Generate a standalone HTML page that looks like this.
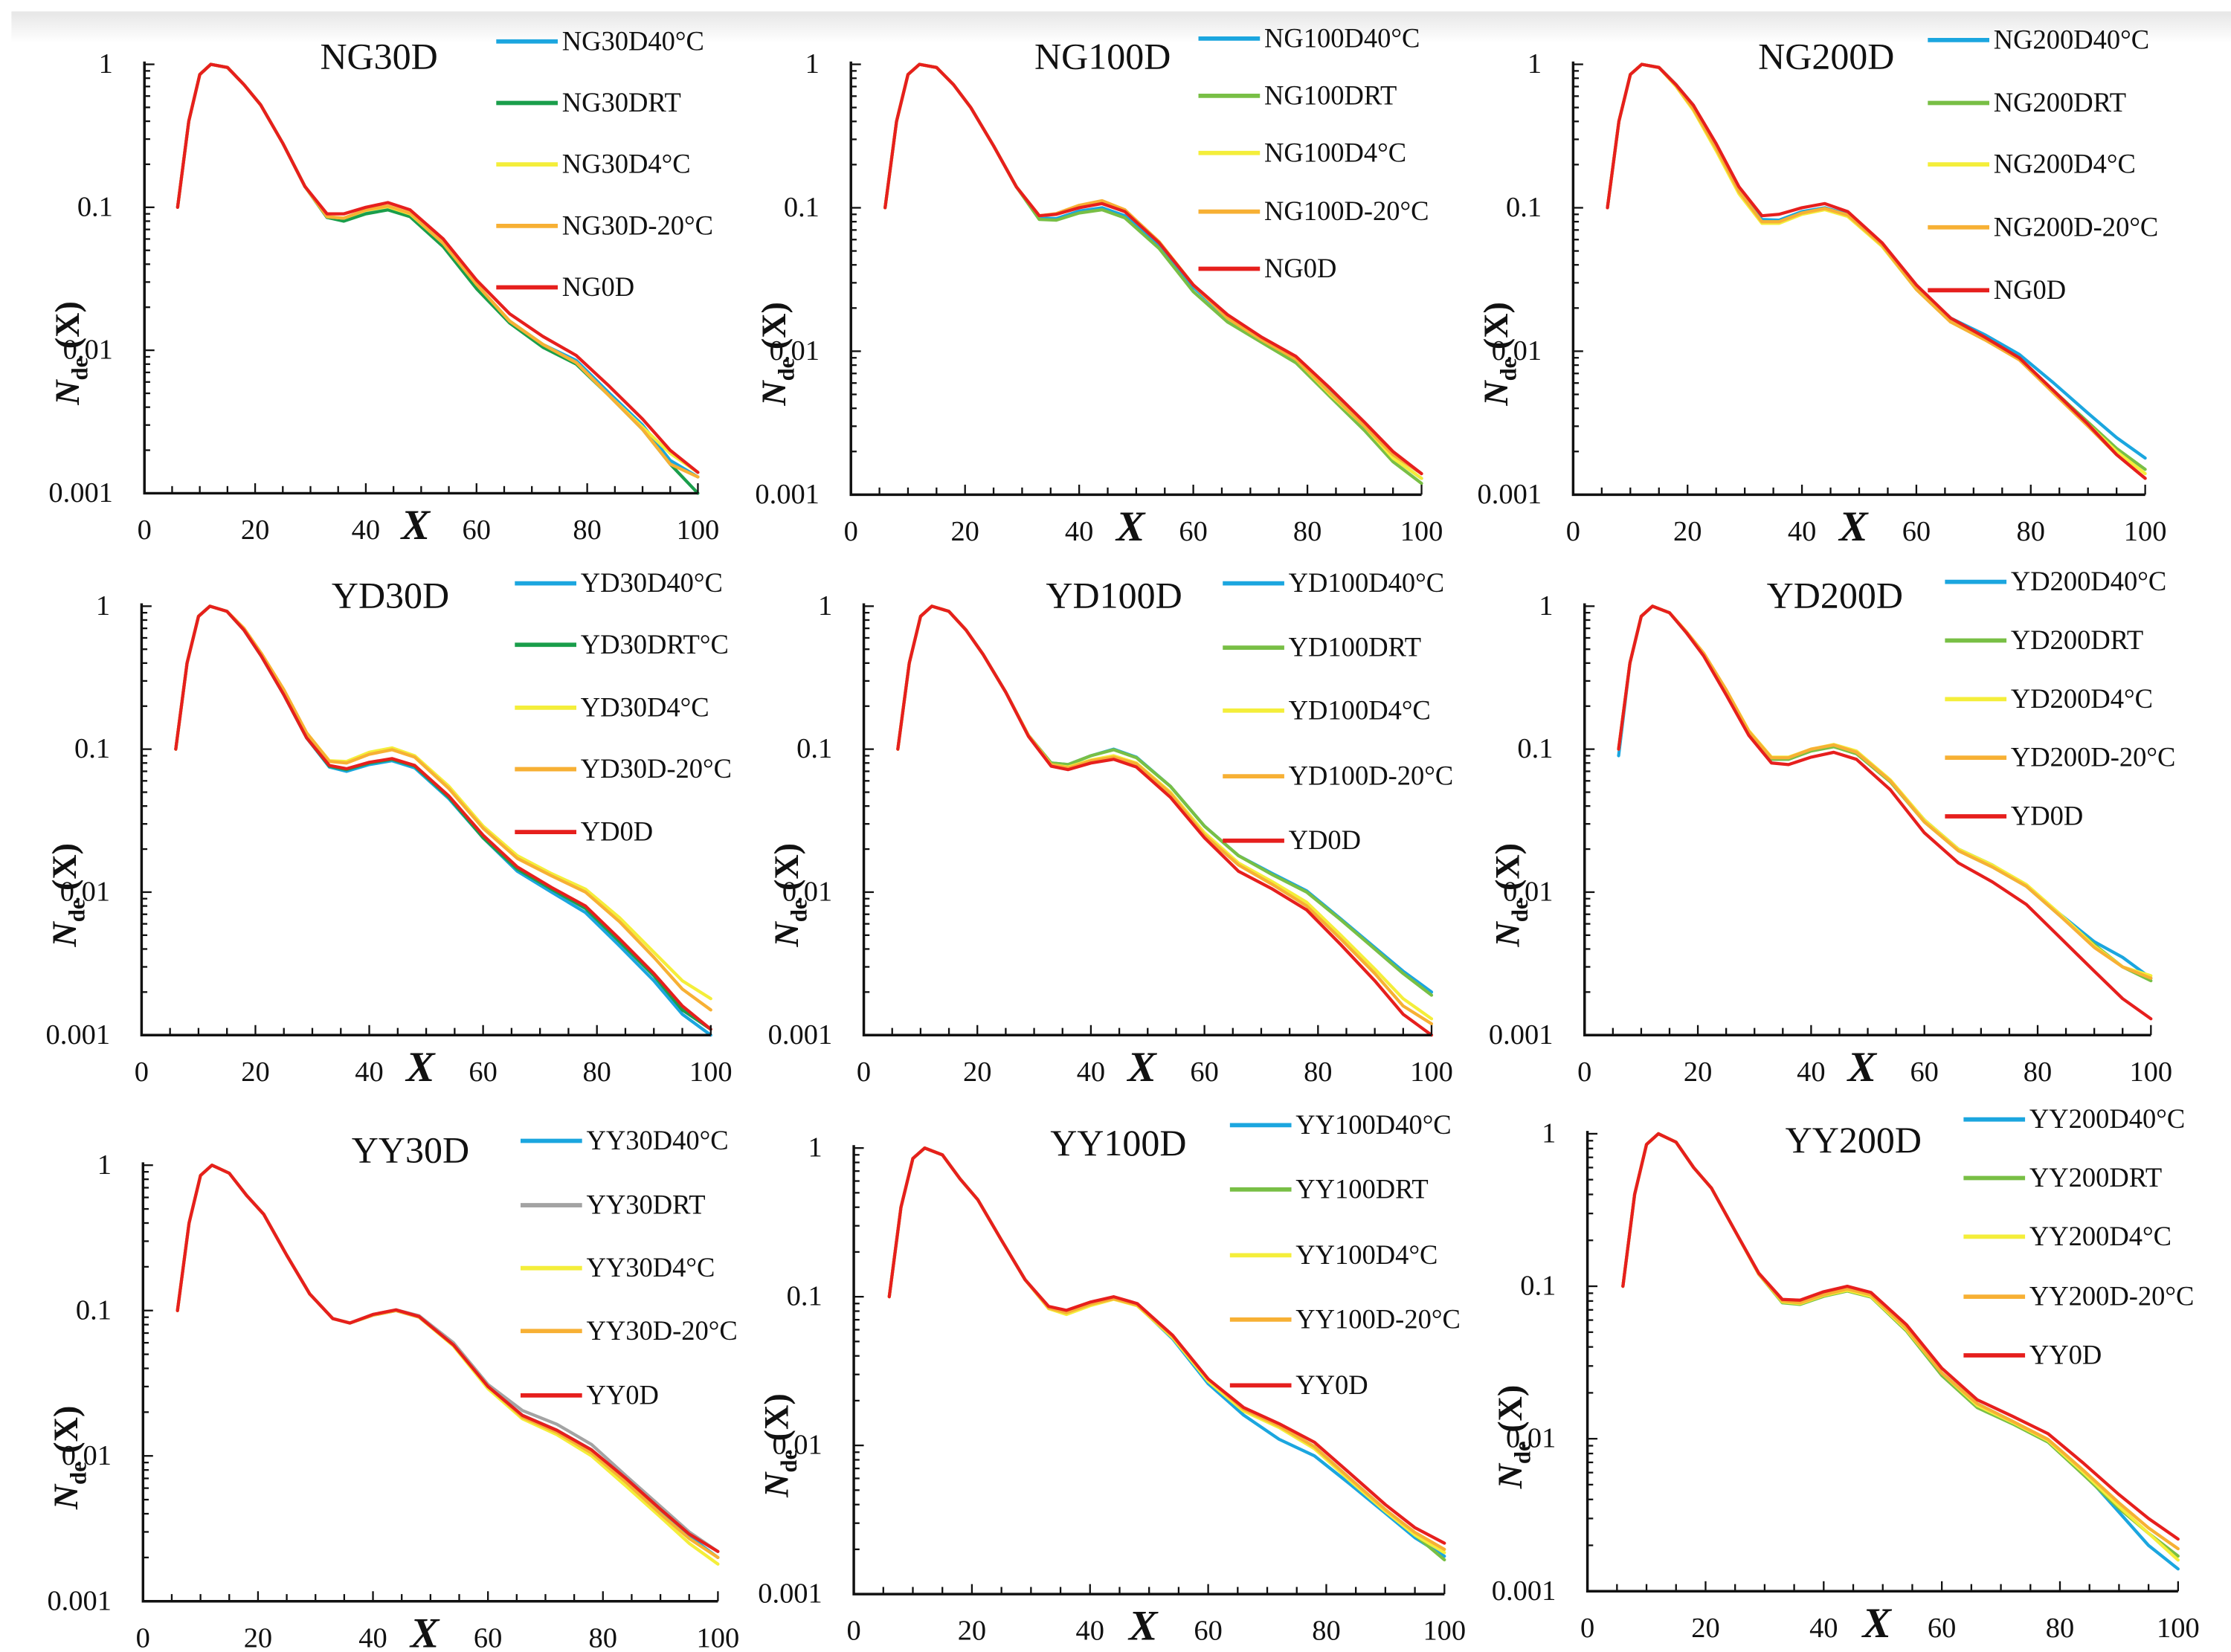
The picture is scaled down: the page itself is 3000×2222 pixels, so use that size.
<!DOCTYPE html>
<html><head><meta charset="utf-8">
<style>
html,body{margin:0;padding:0;background:#fff;}
svg{display:block;}
text{font-family:"Liberation Serif",serif;fill:#111;}
</style></head>
<body>
<svg id="fig" width="3000" height="2222" viewBox="0 0 1560 1155.5" preserveAspectRatio="none" xmlns="http://www.w3.org/2000/svg">
<defs><linearGradient id="topg" x1="0" y1="0" x2="0" y2="1"><stop offset="0" stop-color="#e6e6e6"/><stop offset="1" stop-color="#ffffff"/></linearGradient></defs>
<rect x="0" y="0" width="1560" height="1155.5" fill="#fff"/>
<rect x="8" y="8" width="1552" height="22" fill="url(#topg)"/>
</svg>
<script>
// shared x positions of sampled points
const xs = [6,8,10,12,15,18,21,25,29,33,36,40,44,48,54,60,66,72,78,84,90,95,100];
const colors = {b:'#1ba6df', g:'#1a9e4b', lg:'#78bf45', y:'#f4ee3a', o:'#f7b034', r:'#e61f1d', gr:'#a3a3a3'};

// ---------- NG30D ----------
const ng30Names = ['NG30D40°C','NG30DRT','NG30D4°C','NG30D-20°C','NG0D'];
const ng30B = [0.1,0.4,0.85,1.0,0.95,0.72,0.52,0.28,0.14,0.085,0.082,0.092,0.098,0.088,0.055,0.028,0.016,0.011,0.0085,0.005,0.003,0.0017,0.0013];
const ng30G = [0.1,0.4,0.85,1.0,0.95,0.72,0.52,0.28,0.14,0.085,0.08,0.09,0.096,0.086,0.053,0.027,0.0155,0.0105,0.008,0.0048,0.0028,0.0016,0.001];
const ng30Y = [0.1,0.4,0.85,1.0,0.95,0.72,0.52,0.28,0.14,0.086,0.084,0.095,0.101,0.09,0.056,0.029,0.016,0.011,0.0082,0.0048,0.0029,0.0019,0.0014];
const ng30O = [0.1,0.4,0.85,1.0,0.95,0.72,0.52,0.28,0.14,0.086,0.084,0.096,0.102,0.091,0.056,0.029,0.016,0.011,0.0082,0.0048,0.0028,0.0016,0.0013];
const ng30R = [0.1,0.4,0.85,1.0,0.95,0.72,0.52,0.28,0.14,0.09,0.09,0.1,0.108,0.096,0.06,0.031,0.018,0.0125,0.0092,0.0056,0.0033,0.002,0.0014];
// ---------- NG100D ----------
const ng100Names = ['NG100D40°C','NG100DRT','NG100D4°C','NG100D-20°C','NG0D'];
const ng100B = [0.1,0.4,0.85,1.0,0.95,0.72,0.5,0.27,0.14,0.085,0.084,0.095,0.1,0.088,0.055,0.028,0.017,0.012,0.0088,0.0052,0.003,0.0018,0.0013];
const ng100G = [0.1,0.4,0.85,1.0,0.95,0.72,0.5,0.27,0.14,0.083,0.082,0.092,0.097,0.085,0.052,0.026,0.016,0.0115,0.0083,0.0048,0.0028,0.0017,0.0012];
const ng100Y = [0.1,0.4,0.85,1.0,0.95,0.72,0.5,0.27,0.14,0.088,0.09,0.103,0.11,0.096,0.058,0.029,0.017,0.012,0.0088,0.005,0.003,0.0018,0.0013];
const ng100O = [0.1,0.4,0.85,1.0,0.95,0.72,0.5,0.27,0.14,0.088,0.091,0.104,0.112,0.097,0.058,0.029,0.017,0.012,0.0088,0.0051,0.003,0.0019,0.0014];
const ng100R = [0.1,0.4,0.85,1.0,0.95,0.72,0.5,0.27,0.14,0.088,0.09,0.1,0.107,0.094,0.057,0.029,0.018,0.0125,0.0092,0.0055,0.0032,0.002,0.0014];
// ---------- NG200D ----------
const ng200Names = ['NG200D40°C','NG200DRT','NG200D4°C','NG200D-20°C','NG0D'];
const ng200B = [0.1,0.4,0.85,1.0,0.95,0.72,0.52,0.27,0.13,0.083,0.082,0.094,0.1,0.09,0.056,0.028,0.017,0.013,0.0095,0.006,0.0037,0.0025,0.0018];
const ng200G = [0.1,0.4,0.85,1.0,0.95,0.72,0.5,0.26,0.13,0.08,0.08,0.092,0.098,0.088,0.054,0.027,0.016,0.012,0.0088,0.0053,0.0032,0.0021,0.0015];
const ng200Y = [0.1,0.4,0.85,1.0,0.95,0.7,0.48,0.25,0.125,0.078,0.078,0.09,0.097,0.087,0.054,0.027,0.016,0.012,0.0088,0.0052,0.0031,0.002,0.0014];
const ng200O = [0.1,0.4,0.85,1.0,0.95,0.71,0.49,0.26,0.13,0.08,0.08,0.092,0.099,0.089,0.055,0.027,0.016,0.012,0.0087,0.0051,0.003,0.0019,0.0013];
const ng200R = [0.1,0.4,0.85,1.0,0.95,0.72,0.52,0.28,0.14,0.088,0.09,0.1,0.107,0.094,0.057,0.029,0.017,0.0125,0.009,0.0053,0.0031,0.0019,0.0013];
// ---------- YD30D ----------
const yd30Names = ['YD30D40°C','YD30DRT°C','YD30D4°C','YD30D-20°C','YD0D'];
const yd30B = [0.1,0.4,0.85,1.0,0.92,0.68,0.45,0.24,0.12,0.075,0.07,0.078,0.083,0.074,0.045,0.024,0.014,0.01,0.0072,0.0042,0.0024,0.0014,0.001];
const yd30G = [0.1,0.4,0.85,1.0,0.92,0.68,0.45,0.24,0.12,0.076,0.072,0.08,0.085,0.076,0.046,0.024,0.0145,0.0105,0.0077,0.0045,0.0026,0.0015,0.0011];
const yd30Y = [0.1,0.4,0.85,1.0,0.92,0.7,0.47,0.26,0.13,0.083,0.082,0.095,0.102,0.09,0.055,0.029,0.018,0.0135,0.0105,0.0066,0.0038,0.0024,0.0018];
const yd30O = [0.1,0.4,0.85,1.0,0.92,0.7,0.47,0.26,0.13,0.082,0.08,0.092,0.099,0.088,0.053,0.028,0.0172,0.013,0.01,0.0062,0.0035,0.0021,0.0015];
const yd30R = [0.1,0.4,0.85,1.0,0.92,0.68,0.45,0.24,0.12,0.077,0.073,0.081,0.086,0.077,0.047,0.025,0.015,0.0108,0.008,0.0047,0.0027,0.0016,0.0011];
// ---------- YD100D ----------
const yd100Names = ['YD100D40°C','YD100DRT','YD100D4°C','YD100D-20°C','YD0D'];
const yd100B = [0.1,0.4,0.85,1.0,0.92,0.68,0.46,0.25,0.125,0.08,0.078,0.09,0.1,0.088,0.055,0.029,0.018,0.0135,0.0102,0.0065,0.0041,0.0028,0.002];
const yd100G = [0.1,0.4,0.85,1.0,0.92,0.68,0.46,0.25,0.125,0.08,0.078,0.09,0.099,0.087,0.055,0.029,0.018,0.0132,0.01,0.0064,0.004,0.0027,0.0019];
const yd100Y = [0.1,0.4,0.85,1.0,0.92,0.68,0.46,0.25,0.125,0.078,0.075,0.084,0.09,0.08,0.05,0.026,0.016,0.0118,0.0085,0.005,0.0029,0.0018,0.0013];
const yd100O = [0.1,0.4,0.85,1.0,0.92,0.68,0.46,0.25,0.125,0.078,0.074,0.083,0.088,0.079,0.049,0.025,0.0155,0.0113,0.008,0.0047,0.0027,0.0016,0.0012];
const yd100R = [0.1,0.4,0.85,1.0,0.92,0.68,0.46,0.25,0.123,0.076,0.072,0.08,0.085,0.075,0.046,0.024,0.014,0.0105,0.0075,0.0043,0.0024,0.0014,0.001];
// ---------- YD200D ----------
const yd200Names = ['YD200D40°C','YD200DRT','YD200D4°C','YD200D-20°C','YD0D'];
const yd200B = [0.09,0.4,0.85,1.0,0.9,0.65,0.46,0.25,0.13,0.085,0.085,0.098,0.105,0.094,0.06,0.032,0.02,0.0155,0.011,0.007,0.0045,0.0035,0.0025];
const yd200G = [0.1,0.4,0.85,1.0,0.9,0.65,0.46,0.25,0.13,0.085,0.085,0.097,0.104,0.093,0.059,0.031,0.0195,0.015,0.011,0.0068,0.0043,0.003,0.0024];
const yd200Y = [0.1,0.4,0.85,1.0,0.9,0.66,0.47,0.26,0.135,0.088,0.088,0.1,0.108,0.097,0.061,0.032,0.02,0.0155,0.0113,0.007,0.0042,0.003,0.0026];
const yd200O = [0.1,0.4,0.85,1.0,0.9,0.66,0.47,0.26,0.133,0.087,0.087,0.1,0.107,0.095,0.06,0.031,0.0195,0.015,0.011,0.0068,0.0041,0.003,0.0025];
const yd200R = [0.1,0.4,0.85,1.0,0.9,0.65,0.45,0.24,0.125,0.08,0.078,0.088,0.095,0.085,0.052,0.026,0.016,0.0118,0.0082,0.0048,0.0028,0.0018,0.0013];
// ---------- YY30D ----------
const yy30Names = ['YY30D40°C','YY30DRT','YY30D4°C','YY30D-20°C','YY0D'];
const yy30B = [0.1,0.4,0.85,1.0,0.88,0.62,0.46,0.24,0.13,0.088,0.082,0.093,0.1,0.09,0.058,0.03,0.019,0.015,0.011,0.0068,0.0042,0.0028,0.002];
const yy30Gr = [0.1,0.4,0.85,1.0,0.88,0.62,0.46,0.24,0.13,0.088,0.082,0.094,0.101,0.092,0.06,0.031,0.0205,0.0165,0.012,0.0073,0.0045,0.003,0.0022];
const yy30Y = [0.1,0.4,0.85,1.0,0.88,0.62,0.46,0.24,0.13,0.088,0.082,0.093,0.1,0.09,0.057,0.029,0.018,0.014,0.01,0.0062,0.0038,0.0025,0.0018];
const yy30O = [0.1,0.4,0.85,1.0,0.88,0.62,0.46,0.24,0.13,0.088,0.082,0.093,0.1,0.09,0.058,0.03,0.0185,0.0145,0.0105,0.0066,0.004,0.0027,0.002];
const yy30R = [0.1,0.4,0.85,1.0,0.88,0.62,0.46,0.24,0.13,0.088,0.082,0.094,0.101,0.091,0.058,0.03,0.019,0.015,0.011,0.007,0.0043,0.0029,0.0022];
// ---------- YY100D ----------
const yy100Names = ['YY100D40°C','YY100DRT','YY100D4°C','YY100D-20°C','YY0D'];
const yy100B = [0.1,0.4,0.85,1.0,0.9,0.62,0.45,0.24,0.13,0.085,0.08,0.09,0.098,0.088,0.052,0.026,0.016,0.011,0.0085,0.0055,0.0035,0.0024,0.0018];
const yy100G = [0.1,0.4,0.85,1.0,0.9,0.62,0.45,0.24,0.13,0.085,0.078,0.088,0.097,0.088,0.053,0.027,0.017,0.0135,0.0098,0.006,0.0037,0.0025,0.0017];
const yy100Y = [0.1,0.4,0.85,1.0,0.9,0.62,0.45,0.24,0.13,0.083,0.076,0.087,0.096,0.087,0.053,0.027,0.017,0.0132,0.0095,0.0058,0.0036,0.0025,0.0019];
const yy100O = [0.1,0.4,0.85,1.0,0.9,0.62,0.45,0.24,0.13,0.084,0.078,0.089,0.097,0.088,0.054,0.028,0.0175,0.0135,0.0098,0.006,0.0037,0.0026,0.002];
const yy100R = [0.1,0.4,0.85,1.0,0.9,0.62,0.45,0.24,0.13,0.086,0.081,0.092,0.1,0.09,0.055,0.028,0.018,0.014,0.0105,0.0065,0.004,0.0028,0.0022];
// ---------- YY200D ----------
const yy200Names = ['YY200D40°C','YY200DRT','YY200D4°C','YY200D-20°C','YY0D'];
const yy200B = [0.1,0.4,0.85,1.0,0.88,0.6,0.44,0.23,0.12,0.08,0.078,0.088,0.095,0.087,0.053,0.027,0.017,0.013,0.0098,0.006,0.0033,0.002,0.0014];
const yy200G = [0.1,0.4,0.85,1.0,0.88,0.6,0.44,0.23,0.12,0.078,0.076,0.086,0.093,0.085,0.051,0.026,0.016,0.0125,0.0095,0.0058,0.0035,0.0024,0.0017];
const yy200Y = [0.1,0.4,0.85,1.0,0.88,0.6,0.44,0.23,0.12,0.079,0.077,0.087,0.094,0.086,0.052,0.027,0.0165,0.0128,0.0097,0.006,0.0036,0.0024,0.0016];
const yy200O = [0.1,0.4,0.85,1.0,0.88,0.6,0.44,0.23,0.12,0.08,0.078,0.088,0.096,0.088,0.053,0.027,0.017,0.013,0.0099,0.0062,0.0038,0.0026,0.0019];
const yy200R = [0.1,0.4,0.85,1.0,0.88,0.6,0.44,0.23,0.122,0.082,0.081,0.092,0.1,0.091,0.056,0.029,0.018,0.014,0.0108,0.0069,0.0043,0.003,0.0022];

const svg = document.getElementById('fig');
const NS = 'http://www.w3.org/2000/svg';
function mk(tag, attrs, parent){ const e=document.createElementNS(NS,tag); for(const k in attrs) e.setAttribute(k,attrs[k]); (parent||svg).appendChild(e); return e; }

const panels = [
 {id:'ng30d',title:'NG30D',x0:101,x1:488,yt:45,yb:345,tx:265,ty:48,lx:347,ly:[29,72,115,158,201],names:ng30Names,series:[[ng30B,'b'],[ng30G,'g'],[ng30Y,'y'],[ng30O,'o'],[ng30R,'r']]},
 {id:'ng100d',title:'NG100D',x0:595,x1:994,yt:45,yb:346,tx:771,ty:48,lx:838,ly:[27,67,107,148,188],names:ng100Names,series:[[ng100B,'b'],[ng100G,'lg'],[ng100Y,'y'],[ng100O,'o'],[ng100R,'r']]},
 {id:'ng200d',title:'NG200D',x0:1100,x1:1500,yt:45,yb:346,tx:1277,ty:48,lx:1348,ly:[28,72,115,159,203],names:ng200Names,series:[[ng200B,'b'],[ng200G,'lg'],[ng200Y,'y'],[ng200O,'o'],[ng200R,'r']]},
 {id:'yd30d',title:'YD30D',x0:99,x1:497,yt:424,yb:724,tx:273,ty:425,lx:360,ly:[408,451,495,538,582],names:yd30Names,series:[[yd30B,'b'],[yd30G,'g'],[yd30Y,'y'],[yd30O,'o'],[yd30R,'r']]},
 {id:'yd100d',title:'YD100D',x0:604,x1:1001,yt:424,yb:724,tx:779,ty:425,lx:855,ly:[408,453,497,543,588],names:yd100Names,series:[[yd100B,'b'],[yd100G,'lg'],[yd100Y,'y'],[yd100O,'o'],[yd100R,'r']]},
 {id:'yd200d',title:'YD200D',x0:1108,x1:1504,yt:424,yb:724,tx:1283,ty:425,lx:1360,ly:[407,448,489,530,571],names:yd200Names,series:[[yd200B,'b'],[yd200G,'lg'],[yd200Y,'y'],[yd200O,'o'],[yd200R,'r']]},
 {id:'yy30d',title:'YY30D',x0:100,x1:502,yt:815,yb:1120,tx:287,ty:813,lx:364,ly:[798,843,887,931,976],names:yy30Names,series:[[yy30B,'b'],[yy30Gr,'gr'],[yy30Y,'y'],[yy30O,'o'],[yy30R,'r']]},
 {id:'yy100d',title:'YY100D',x0:597,x1:1010,yt:803,yb:1115,tx:782,ty:808,lx:860,ly:[787,832,878,923,969],names:yy100Names,series:[[yy100B,'b'],[yy100G,'lg'],[yy100Y,'y'],[yy100O,'o'],[yy100R,'r']]},
 {id:'yy200d',title:'YY200D',x0:1110,x1:1523,yt:793,yb:1113,tx:1296,ty:806,lx:1373,ly:[783,824,865,907,948],names:yy200Names,series:[[yy200B,'b'],[yy200G,'lg'],[yy200Y,'y'],[yy200O,'o'],[yy200R,'r']]}
];

panels.forEach(p=>{
  const g = mk('g',{});
  
  
  const sx = v => p.x0 + (v/100)*(p.x1-p.x0);
  const sy = v => p.yt + (-Math.log10(v)/3)*(p.yb-p.yt);
  p.series.forEach((s,i)=>{
    const d = xs.map((x,j)=>(j?'L':'M')+sx(x).toFixed(1)+' '+sy(s[0][j]).toFixed(1)).join(' ');
    const path = mk('path',{d:d,fill:'none',stroke:colors[s[1]],'stroke-width':2.2,'stroke-linejoin':'round','stroke-linecap':'round'},g);
    
    
  });
  const ax = mk('path',{d:`M${p.x0} ${p.yt-2} L${p.x0} ${p.yb} L${p.x1} ${p.yb}`,fill:'none',stroke:'#111','stroke-width':1.8},g);
  
  
  for(let dec=0; dec<3; dec++){
    for(let m=1;m<10;m++){
      const val = Math.pow(10,-(dec+1))*m;
      const y = sy(val);
      mk('line',{x1:p.x0,x2:p.x0+(m===1?7:4),y1:y,y2:y,stroke:'#111','stroke-width':1.2},g);
    }
  }
  mk('line',{x1:p.x0,x2:p.x0+7,y1:sy(1),y2:sy(1),stroke:'#111','stroke-width':1.2},g);
  for(let v=0; v<=100; v+=5){ mk('line',{x1:sx(v),x2:sx(v),y1:p.yb,y2:p.yb-(v%20===0?7:5),stroke:'#111','stroke-width':1.2},g); }
  [['1',1],['0.1',0.1],['0.01',0.01],['0.001',0.001]].forEach(t=>{
    const tx = mk('text',{x:p.x0-22,y:sy(t[1])+6,'text-anchor':'end','font-size':20},g);
    tx.textContent=t[0];
    
    
  });
  [0,20,40,60,80,100].forEach(v=>{
    const tx = mk('text',{x:sx(v),y:p.yb+32,'text-anchor':'middle','font-size':20},g);
    tx.textContent=v;
    
    
  });
  const xt = mk('text',{x:sx(49),y:p.yb+32,'text-anchor':'middle','font-size':30,'font-weight':'bold','font-style':'italic'},g);
  xt.textContent='X';
  
  
  const ym = (p.yt+p.yb)/2 + 52;
  const yt = mk('text',{x:0,y:0,transform:`translate(${p.x0-46},${ym}) rotate(-90)`,'text-anchor':'middle','font-size':24,'font-weight':'bold'},g);
  
  
  const t1 = mk('tspan',{'font-style':'italic'},yt); t1.textContent='N';
  const t2 = mk('tspan',{'font-size':16,dy:6},yt); t2.textContent='de';
  const t3 = mk('tspan',{dy:-6},yt); t3.textContent=' (X)';
  const ti = mk('text',{x:p.tx,y:p.ty,'text-anchor':'middle','font-size':26},g);
  ti.textContent=p.title;
  
  
  p.series.forEach((s,i)=>{
    const lg = mk('g',{},g);
    
    
    mk('line',{x1:p.lx,x2:p.lx+43,y1:p.ly[i],y2:p.ly[i],stroke:colors[s[1]],'stroke-width':3},lg);
    const lt = mk('text',{x:p.lx+46,y:p.ly[i]+6,'font-size':19},lg);
    lt.textContent=p.names[i];
  });
});
</script>
</body></html>
